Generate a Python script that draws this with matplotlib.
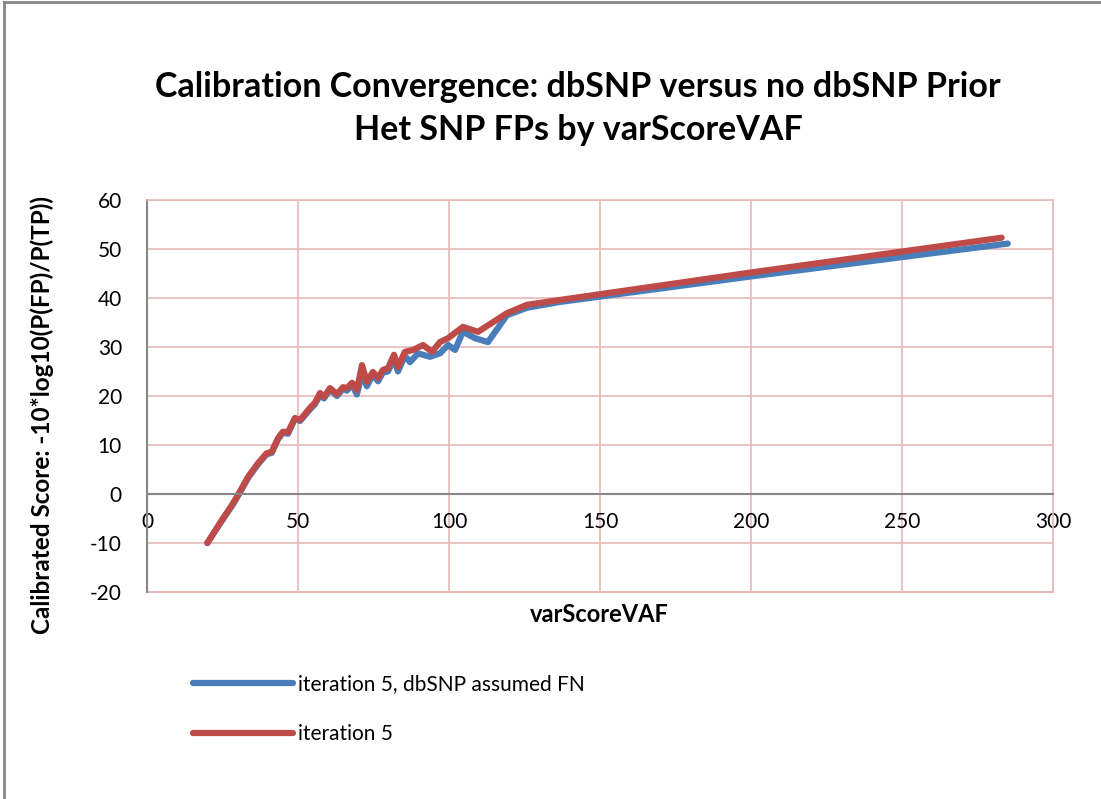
import matplotlib
matplotlib.use('Agg')
import matplotlib.pyplot as plt
from matplotlib.lines import Line2D

# iteration 5, dbSNP assumed FN (blue)
x_fn = [20, 24.2, 28.5, 30.5, 33.5, 36.8, 39.6, 41.3, 43.4, 45, 46.7, 49, 50.7, 54,
        55.6, 57.3, 58.6, 60.6, 62.9, 64.9, 66.2, 67.9, 69.5, 71.2, 72.8, 74.8, 76.5,
        78.1, 79.8, 81.8, 83.1, 85.4, 87.1, 89.7, 93.7, 97, 99.7, 102, 104.6, 108.6,
        112.9, 119.2, 125.8, 136.8, 200, 285]
y_fn = [-10, -6.0, -2.1, 0.0, 3.3, 6.1, 8.1, 8.4, 11.2, 12.5, 12.3, 15.4, 14.9, 17.3,
        18.3, 20.2, 19.5, 21.3, 20.0, 21.4, 21.1, 22.3, 20.3, 24.5, 22.0, 24.4, 23.0,
        24.8, 25.0, 27.6, 25.0, 28.2, 26.9, 28.7, 28.0, 28.7, 30.4, 29.4, 33.1, 31.8,
        31.0, 36.5, 38.0, 39.2, 44.4, 51.1]

# iteration 5 (red)
x_it = [20, 24.2, 28.5, 30.5, 33.5, 36.8, 39.6, 41.3, 43.4, 45, 46.7, 49, 50.7, 54,
        55.6, 57.3, 58.6, 60.6, 62.9, 64.9, 66.2, 67.9, 69.5, 71.2, 72.8, 74.8, 76.5,
        78.1, 79.8, 81.8, 83.1, 85.4, 88.1, 91.4, 94.4, 97, 99.7, 104.6, 109.6, 119.2,
        125.8, 136.8, 200, 283]
y_it = [-10, -5.9, -1.9, 0.2, 3.5, 6.3, 8.3, 8.6, 11.4, 12.7, 12.6, 15.5, 15.1, 17.6,
        18.6, 20.6, 19.8, 21.6, 20.4, 21.8, 21.6, 22.7, 21.2, 26.3, 22.9, 24.9, 23.7,
        25.3, 25.7, 28.4, 25.9, 29.0, 29.4, 30.4, 29.0, 31.0, 31.8, 34.1, 33.1, 36.9,
        38.6, 39.6, 45.2, 52.3]

x_ticks = [0, 50, 100, 150, 200, 250, 300]
y_ticks = [-20, -10, 0, 10, 20, 30, 40, 50, 60]

plt.rcParams['font.family'] = ['Lato', 'DejaVu Sans']
plt.rcParams['axes.unicode_minus'] = False

fig = plt.figure(figsize=(11.01, 7.99), dpi=100)
ax = fig.add_axes([0.1335, 0.2591, 0.8229, 0.4906])

grid_col = '#e6b9b8'
ax.plot(x_fn, y_fn, color='#4a7ebb', lw=4.5, solid_capstyle='round', solid_joinstyle='round',
        label='iteration 5, dbSNP assumed FN')
ax.plot(x_it, y_it, color='#be4b48', lw=4.5, solid_capstyle='round', solid_joinstyle='round',
        label='iteration 5')

ax.set_xlim(0, 300)
ax.set_ylim(-20, 60)
ax.set_xticks(x_ticks)
ax.set_yticks(y_ticks)
ax.grid(True, color=grid_col, lw=1.2)
ax.set_axisbelow(True)
ax.tick_params(axis='x', length=0, labelsize=15, pad=13)
ax.tick_params(axis='y', length=0, labelsize=15, pad=18)

ax.spines['bottom'].set_position(('data', 0))
ax.spines['bottom'].set_color('#868686')
ax.spines['left'].set_color('#868686')
ax.spines['bottom'].set_linewidth(1.5)
ax.spines['left'].set_linewidth(1.5)
for s in ['top', 'right']:
    ax.spines[s].set_color(grid_col)
    ax.spines[s].set_linewidth(1.2)
ax.axhline(-20, color=grid_col, lw=1.5, clip_on=False)

fig.text(0.525, 0.891, 'Calibration Convergence: dbSNP versus no dbSNP Prior',
         ha='center', va='center', fontsize=24.5, fontweight='bold')
fig.text(0.525, 0.837, 'Het SNP FPs by varScoreVAF',
         ha='center', va='center', fontsize=24.5, fontweight='bold')
fig.text(0.544, 0.231, 'varScoreVAF', ha='center', va='center', fontsize=17, fontweight='bold')
fig.text(0.038, 0.48, 'Calibrated Score: -10*log10(P(FP)/P(TP))', ha='center', va='center',
         rotation=90, fontsize=17.5, fontweight='bold')

fig.legend(loc='upper left', bbox_to_anchor=(0.158, 0.18), frameon=False, fontsize=15,
           handlelength=4.8, handletextpad=0.25, labelspacing=1.45)

# outer chart frame (top and left edges visible)
fig.add_artist(Line2D([0.004, 1.0], [0.998, 0.998], transform=fig.transFigure, color='#868686', lw=2))
fig.add_artist(Line2D([0.004, 0.004], [0.0, 0.998], transform=fig.transFigure, color='#868686', lw=2))

fig.savefig('out.png', dpi=100)
